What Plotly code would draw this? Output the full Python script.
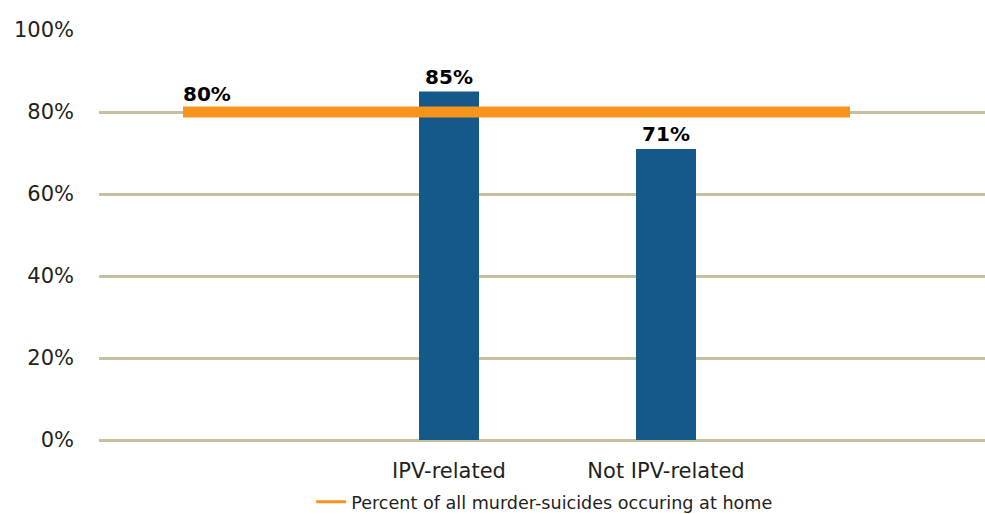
import plotly.graph_objects as go

# ---- data ----
categories = ["IPV-related", "Not IPV-related"]
bar_values = [85, 71]
overall_home_pct = 80
legend_name = "Percent of all murder-suicides occuring at home"
y_ticks = [0, 20, 40, 60, 80, 100]
y_tick_labels = [f"{v}%" for v in y_ticks]

# ---- layout constants ----
cat_pos = [1, 2]
line_x_start, line_x_end = -0.226, 2.848
x_range = [-0.613, 3.47]
FONT = "DejaVu Sans"
TXT = "#231f20"
GRID = "#c6c0a0"
BAR = "#15598a"
ORANGE = "#f7941d"

fig = go.Figure()

fig.add_trace(go.Scatter(
    x=[line_x_start, line_x_end], y=[overall_home_pct, overall_home_pct],
    mode="lines", line=dict(color=ORANGE, width=11),
    showlegend=False, hoverinfo="skip"))

fig.add_trace(go.Bar(
    x=cat_pos, y=bar_values, width=0.2765, marker=dict(color=BAR, line=dict(width=0)),
    texttemplate="<b>%{y}%</b>", textposition="outside",
    textfont=dict(family=FONT, size=20, color="#000000"),
    cliponaxis=False, showlegend=False, hoverinfo="skip"))

# legend-only entry (thin sample as in reference)
fig.add_trace(go.Scatter(
    x=[None], y=[None], mode="lines", name=legend_name,
    line=dict(color=ORANGE, width=3)))

fig.add_annotation(
    x=line_x_start, y=overall_home_pct, xref="x", yref="y",
    text=f"<b>{overall_home_pct}%</b>", showarrow=False,
    xanchor="left", yanchor="bottom", yshift=4, xshift=-2,
    font=dict(family=FONT, size=20, color="#000000"))

fig.update_layout(
    width=985, height=514,
    margin=dict(l=99, r=0, t=30, b=74, autoexpand=False),
    plot_bgcolor="white", paper_bgcolor="white",
    font=dict(family=FONT, size=21, color=TXT),
    barmode="overlay",
    showlegend=True,
    legend=dict(orientation="h", x=0.503, xanchor="center", y=-0.151, yanchor="middle",
                font=dict(family=FONT, size=17.6, color=TXT),
                bgcolor="rgba(0,0,0,0)", itemwidth=30),
    xaxis=dict(range=x_range, tickvals=cat_pos, ticktext=categories,
               showgrid=False, zeroline=False, showline=False, ticks="",
               ticklabelstandoff=16, fixedrange=True, automargin=False,
               tickfont=dict(family=FONT, size=21, color=TXT)),
    yaxis=dict(range=[0, 100], tickvals=y_ticks, ticktext=y_tick_labels,
               showgrid=True, gridcolor=GRID, gridwidth=3,
               zeroline=True, zerolinecolor=GRID, zerolinewidth=3,
               showline=False, ticks="", ticklabelstandoff=24, fixedrange=True,
               automargin=False,
               tickfont=dict(family=FONT, size=21, color=TXT)),
)

fig.write_html("out.html", config={"displayModeBar": False},
               post_script="document.body.style.margin='0';")
